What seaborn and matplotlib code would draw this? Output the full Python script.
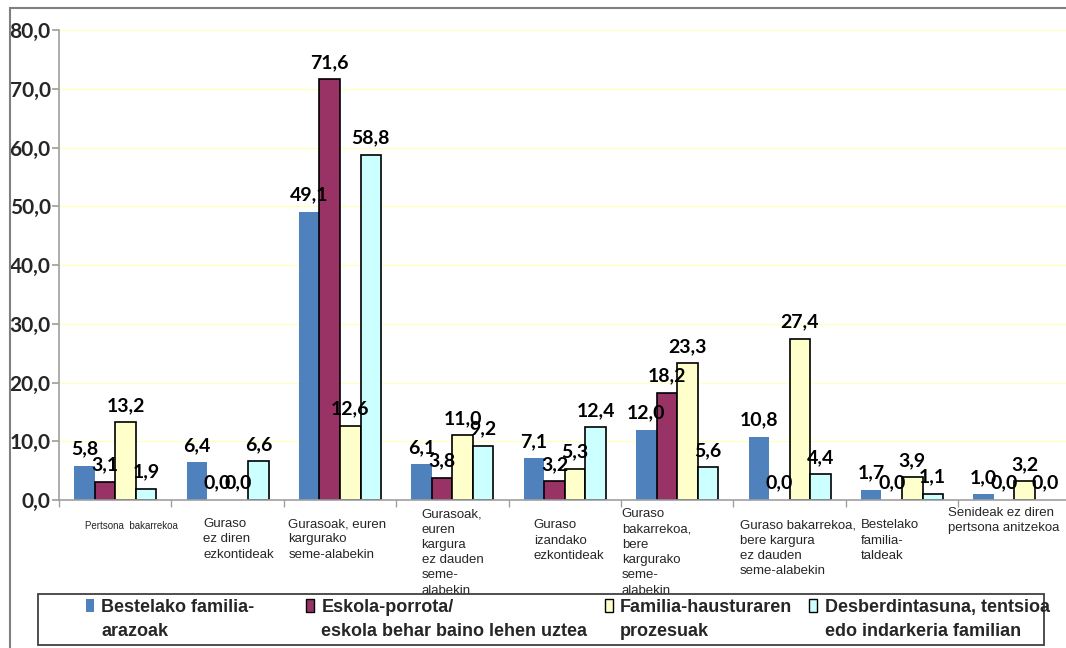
import pandas as pd
import seaborn as sns
import matplotlib.pyplot as plt
from matplotlib.patches import Patch, Rectangle
from matplotlib.transforms import ScaledTranslation

# --- data ---
categories = [
    "Pertsona  bakarrekoa",
    "Guraso\nez diren\nezkontideak",
    "Gurasoak, euren\nkargurako\nseme-alabekin",
    "Gurasoak,\neuren\nkargura\nez dauden\nseme-\nalabekin",
    "Guraso\nizandako\nezkontideak",
    "Guraso\nbakarrekoa,\nbere\nkargurako\nseme-\nalabekin",
    "Guraso bakarrekoa,\nbere kargura\nez dauden\nseme-alabekin",
    "Bestelako\nfamilia-\ntaldeak",
    "Senideak ez diren\npertsona anitzekoa",
]
series = [
    "Bestelako familia-\narazoak",
    "Eskola-porrota/\neskola behar baino lehen uztea",
    "Familia-hausturaren\nprozesuak",
    "Desberdintasuna, tentsioa\nedo indarkeria familian",
]
bestelako = [5.8, 6.4, 49.1, 6.1, 7.1, 12.0, 10.8, 1.7, 1.0]
eskola = [3.1, 0.0, 71.6, 3.8, 3.2, 18.2, 0.0, 0.0, 0.0]
haustura = [13.2, 0.0, 12.6, 11.0, 5.3, 23.3, 27.4, 3.9, 3.2]
desberdin = [1.9, 6.6, 58.8, 9.2, 12.4, 5.6, 4.4, 1.1, 0.0]
yticks = [0, 10, 20, 30, 40, 50, 60, 70, 80]

colors = ["#4F81BD", "#993366", "#FFFFCC", "#CCFFFF"]
edges = ["none", "black", "black", "black"]

wide = pd.DataFrame({"kategoria": categories, series[0]: bestelako, series[1]: eskola,
                     series[2]: haustura, series[3]: desberdin})
df = wide.melt(id_vars="kategoria", var_name="seriea", value_name="balioa")

sns.set_theme(style="white")
plt.rcParams["font.family"] = ["Liberation Sans", "DejaVu Sans"]

W, H = 1066, 648
fig = plt.figure(figsize=(W / 100, H / 100), dpi=100)
ax = fig.add_axes([59 / W, 1 - 500 / H, 9 * 112.4 / W, 470 / H])

sns.barplot(data=df, x="kategoria", y="balioa", hue="seriea", order=categories,
            hue_order=series, palette=colors, saturation=1, width=0.73, gap=0,
            legend=False, ax=ax)

for i, cont in enumerate(ax.containers):
    vals = df[df["seriea"] == series[i]]["balioa"].tolist()
    for bar, v in zip(cont, vals):
        if edges[i] == "none" or v == 0:
            bar.set_linewidth(0)
        else:
            bar.set_edgecolor(edges[i])
            bar.set_linewidth(1.2)
    ax.bar_label(cont, labels=[f"{v:.1f}".replace(".", ",") for v in vals], padding=6,
                 fontsize=14, fontweight="bold", family="Lato", color="black")

# y axis
ax.set_ylim(0, 80)
ax.set_yticks(yticks)
ax.set_yticklabels([f"{v:.1f}".replace(".", ",") for v in yticks],
                   fontsize=15, fontweight="bold", family="Lato")
ax.yaxis.grid(True, color="#FFFFC4", lw=1)
ax.set_axisbelow(True)
ax.tick_params(axis="y", left=True, length=5, color="#A0A0A0", pad=1)
ax.set_xlabel("")
ax.set_ylabel("")
for s in ["top", "right"]:
    ax.spines[s].set_visible(False)
for s in ["left", "bottom"]:
    ax.spines[s].set_color("#A0A0A0")
    ax.spines[s].set_linewidth(1.2)

# x axis: boundary ticks, labels under each group
ax.set_xlim(-0.5, 8.5)
ax.set_xticks([k - 0.5 for k in range(10)], minor=True)
ax.tick_params(axis="x", which="minor", bottom=True, length=5, color="#A0A0A0")
ax.tick_params(axis="x", which="major", bottom=True, length=0)
pads = [15, 13, 13, 6, 14, 6, 14, 14, 5]
shifts = [12, 8, -2, 0, 3, -15, 6, -9, -8]  # points, sideways nudge of each label
for i, (tick, lab) in enumerate(zip(ax.xaxis.get_major_ticks(), ax.get_xticklabels())):
    tick.set_pad(pads[i])
    lab.set_fontsize(7 if i == 0 else 9.5)
    lab.set_multialignment("left")
    lab.set_linespacing(1.36)
    lab.set_transform(lab.get_transform() + ScaledTranslation(shifts[i] / 72, 0, fig.dpi_scale_trans))

# outer frame and legend box
fig.patches.append(Rectangle((10 / W, -0.1), 1.2, 1.1 - 8 / H, transform=fig.transFigure,
                             fill=False, edgecolor="#808080", lw=1.5, zorder=0))
fig.patches.append(Rectangle((38 / W, 1 - 645 / H), (1044 - 38) / W, 51 / H,
                             transform=fig.transFigure, facecolor="white",
                             edgecolor="#404040", lw=1.3, zorder=3))

handles = [Patch(facecolor=c, edgecolor=("none" if e == "none" else e), lw=1)
           for c, e in zip(colors, edges)]
leg_kw = dict(loc="upper left", frameon=False, borderaxespad=0, borderpad=0,
              handlelength=0.45, handleheight=0.7, handletextpad=0.4,
              prop={"family": "Liberation Sans", "weight": "bold", "size": 13})
# first column sits apart from the other three, as in the reference
leg1 = fig.legend(handles[:1], series[:1], bbox_to_anchor=(86 / W, 1 - 599 / H), ncol=1, **leg_kw)
leg2 = fig.legend(handles[1:], series[1:], bbox_to_anchor=(306 / W, 1 - 599 / H), ncol=3,
                  columnspacing=0.95, **leg_kw)
for leg in (leg1, leg2):
    leg.set_zorder(5)
    for t in leg.get_texts():
        t.set_linespacing(1.5)
    # square next to the first line of each entry
    for col in leg._legend_handle_box.get_children():
        for item in col.get_children():
            item.align = "top"

fig.savefig("out.png", dpi=100)
